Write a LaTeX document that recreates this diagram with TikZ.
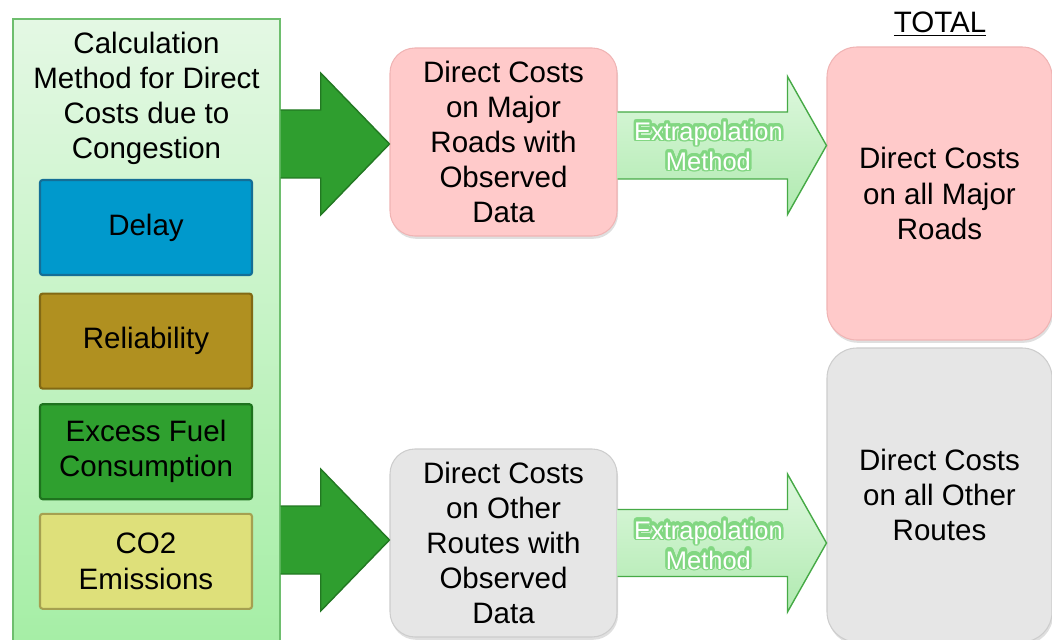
\documentclass[tikz,border=0pt]{standalone}
\usepackage{fontspec}
\setmainfont{Liberation Sans}
\usepackage[copies]{contour}
\contournumber{24}
\usetikzlibrary{positioning,calc,shadows,fadings}
\definecolor{paneltop}{RGB}{228,248,228}
\definecolor{panelbot}{RGB}{165,238,165}
\definecolor{panelline}{RGB}{110,190,110}
\definecolor{delayfill}{RGB}{0,153,204}
\definecolor{delayline}{RGB}{20,110,150}
\definecolor{relfill}{RGB}{176,144,32}
\definecolor{relline}{RGB}{130,105,20}
\definecolor{fuelfill}{RGB}{47,160,47}
\definecolor{fuelline}{RGB}{30,115,30}
\definecolor{cotwofill}{RGB}{222,224,122}
\definecolor{cotwoline}{RGB}{165,160,80}
\definecolor{arrowgreen}{RGB}{47,158,47}
\definecolor{arrowline}{RGB}{34,120,34}
\definecolor{pinkfill}{RGB}{255,202,202}
\definecolor{pinkline}{RGB}{240,180,180}
\definecolor{greyfill}{RGB}{230,230,230}
\definecolor{greyline}{RGB}{205,205,205}
\definecolor{exttop}{RGB}{222,248,222}
\definecolor{extbot}{RGB}{176,234,176}
\definecolor{extline}{RGB}{70,170,70}
\definecolor{glowgreen}{RGB}{130,215,130}

\tikzset{exttext/.style={font=\fontsize{14.5}{17}\selectfont, align=center}}

% soft glow round the extrapolation label
\begin{tikzfadingfrompicture}[name=extglow]
  \contourlength{1.3pt}
  \node[exttext, text=white] (glowlabel) {\contour{white}{Extrapolation}\\\contour{white}{Method}};
\end{tikzfadingfrompicture}

\begin{document}
\begin{tikzpicture}[
  font=\fontsize{16.8}{20}\selectfont,
  panel/.style={rectangle, draw=panelline, top color=paneltop, bottom color=panelbot,
                line width=0.8pt, minimum width=5.34cm, minimum height=12.6cm},
  factor/.style={rectangle, rounded corners=1.5pt, line width=1.2pt, minimum width=4.24cm,
                 minimum height=1.9cm, align=center},
  costbox/.style={rectangle, rounded corners=0.5cm, line width=0.6pt, align=center,
                  drop shadow={opacity=0.25, shadow xshift=0.6pt, shadow yshift=-1.6pt}},
  pinkbox/.style={costbox, fill=pinkfill, draw=pinkline},
  greybox/.style={costbox, fill=greyfill, draw=greyline},
  bigarrow/.style={fill=arrowgreen, draw=arrowline, line width=0.8pt, line join=miter},
  extarrow/.style={top color=exttop, bottom color=extbot, draw=extline, line width=0.8pt},
  glow/.style={fill=glowgreen, path fading=extglow, fit fading=false}
]
\useasboundingbox (0,0) rectangle (21.04,12.78);
\clip (0,0) rectangle (21.04,12.78);

% left panel
\node[panel] (panel) at (2.93,6.1) {};
\node[align=center] (ptitle) at (2.93,10.81) {Calculation\\Method for Direct\\Costs due to\\Congestion};

% cost factors
\node[factor, fill=delayfill, draw=delayline] (delay) at (2.92,8.23) {Delay};
\node[factor, fill=relfill, draw=relline, below=0.33cm of delay] (reliab) {Reliability};
\node[factor, fill=fuelfill, draw=fuelline, below=0.27cm of reliab] (fuel) {Excess Fuel\\Consumption};
\node[factor, fill=cotwofill, draw=cotwoline, below=0.25cm of fuel] (cotwo) {CO2\\Emissions};

% observed data
\node[pinkbox, minimum width=4.54cm, minimum height=3.76cm] (obsMajor) at (10.07,9.94)
  {Direct Costs\\on Major\\Roads with\\Observed\\Data};
\node[greybox, minimum width=4.54cm, minimum height=3.76cm] (obsOther) at (10.07,1.92)
  {Direct Costs\\on Other\\Routes with\\Observed\\Data};

% totals
\node[pinkbox, rounded corners=0.6cm, minimum width=4.5cm, minimum height=5.86cm] (allMajor) at (18.79,8.91)
  {Direct Costs\\on all Major\\Roads};
\node[greybox, rounded corners=0.6cm, minimum width=4.5cm, minimum height=5.88cm] (allOther) at (18.79,2.88)
  {Direct Costs\\on all Other\\Routes};
\node (total) at (18.8,12.30) {\underline{TOTAL}};

% feed arrows
\coordinate (feedA) at ($(panel.east |- obsMajor.west)+(0,-0.04)$);
\coordinate (feedB) at ($(panel.east |- obsOther.west)+(0,0.06)$);
\draw[bigarrow] ($(feedA)+(0,0.68)$) -- ++(0.8,0) -- ++(0,0.74) -- ($(feedA -| obsMajor.west)$)
  -- ($(feedA)+(0.8,-1.42)$) -- ++(0,0.74) -- ($(feedA)+(0,-0.68)$);
\draw[bigarrow] ($(feedB)+(0,0.68)$) -- ++(0.8,0) -- ++(0,0.74) -- ($(feedB -| obsOther.west)$)
  -- ($(feedB)+(0.8,-1.42)$) -- ++(0,0.74) -- ($(feedB)+(0,-0.68)$);

% extrapolation arrows
\coordinate (extbaseA) at ($(obsMajor.east)+(0,-0.07)$);
\coordinate (tipA) at (allMajor.west |- extbaseA);
\coordinate (tipB) at (allOther.west |- obsOther.east);
\draw[extarrow] ($(extbaseA)+(0,0.67)$) -- ($(tipA)+(-0.78,0.67)$) -- ++(0,0.71) -- (tipA)
  -- ($(tipA)+(-0.78,-1.38)$) -- ++(0,0.71) -- ($(extbaseA)+(0,-0.67)$);
\draw[extarrow] ($(obsOther.east)+(0,0.67)$) -- ($(tipB)+(-0.78,0.67)$) -- ++(0,0.71) -- (tipB)
  -- ($(tipB)+(-0.78,-1.38)$) -- ++(0,0.71) -- ($(obsOther.east)+(0,-0.67)$);
\coordinate (labelA) at ($(extbaseA)!0.435!(tipA)+(0,-0.02)$);
\coordinate (labelB) at ($(obsOther.east)!0.435!(tipB)+(0,-0.04)$);
\path[glow, fading transform={shift={(labelA)}}] ($(labelA)+(-2,-0.9)$) rectangle ($(labelA)+(2,0.9)$);
\path[glow, fading transform={shift={(labelB)}}] ($(labelB)+(-2,-0.9)$) rectangle ($(labelB)+(2,0.9)$);
\node[exttext, text=white] (extA) at (labelA) {Extrapolation\\Method};
\node[exttext, text=white] (extB) at (labelB) {Extrapolation\\Method};

\end{tikzpicture}
\end{document}
